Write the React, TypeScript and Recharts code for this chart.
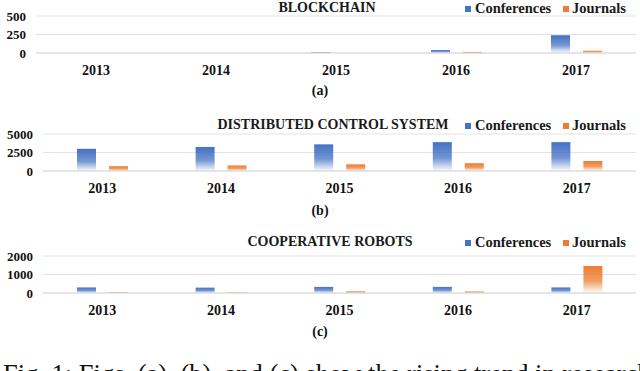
import { BarChart, Bar, XAxis, YAxis, CartesianGrid, Legend } from 'recharts';

// categories
const years = ['2013', '2014', '2015', '2016', '2017'];

// (a) blockchain
const blockchainConferences = [0, 0, 8, 40, 240];
const blockchainJournals = [0, 0, 0, 15, 30];
const blockchainTicks = [0, 250, 500];

// (b) distributed control system
const dcsConferences = [3000, 3250, 3600, 3900, 3900];
const dcsJournals = [650, 750, 900, 1050, 1350];
const dcsTicks = [0, 2500, 5000];

// (c) cooperative robots
const cobotConferences = [300, 290, 330, 330, 300];
const cobotJournals = [30, 25, 90, 80, 1460];
const cobotTicks = [0, 1000, 2000];

const BLUE = '#4472c4';
const ORANGE = '#ed7d31';
const SERIF = '"Liberation Serif", "Times New Roman", serif';

interface PanelProps {
  id: string;
  title: string;
  conferences: number[];
  journals: number[];
  ticks: number[];
  top: number;
  axisWidth: number;
  legendTop: number;
  titleX: number;
}

function Panel({ id, title, conferences, journals, ticks, top, axisWidth, legendTop, titleX }: PanelProps) {
  const data = years.map((year, i) => ({
    year,
    conferences: conferences[i],
    journals: journals[i],
  }));

  const renderLegend = () => (
    <div
      style={{
        position: 'relative',
        width: 640,
        height: 18,
        fontFamily: SERIF,
        fontWeight: 'bold',
        color: '#1a1a1a',
        lineHeight: '18px',
      }}
    >
      <span
        style={{
          position: 'absolute',
          left: titleX,
          top: 0,
          transform: 'translateX(-50%)',
          fontSize: 14,
          whiteSpace: 'nowrap',
        }}
      >
        {title}
      </span>
      <span style={{ position: 'absolute', left: 465, top: 7, width: 6, height: 6, background: BLUE }} />
      <span style={{ position: 'absolute', left: 475, top: 0, fontSize: 14.5 }}>Conferences</span>
      <span style={{ position: 'absolute', left: 563, top: 7, width: 6, height: 6, background: ORANGE }} />
      <span style={{ position: 'absolute', left: 572, top: 0, fontSize: 14.5 }}>Journals</span>
    </div>
  );

  return (
    <div style={{ position: 'absolute', left: 0, top }}>
      <BarChart
        width={640}
        height={80}
        data={data}
        margin={{ top: 16, right: 4, left: 0, bottom: 0 }}
        barSize={19}
        barGap={13}
      >
        <defs>
          <linearGradient id={`${id}-blue`} x1="0" y1="0" x2="0" y2="1">
            <stop offset="0%" stopColor={BLUE} stopOpacity={1} />
            <stop offset="55%" stopColor={BLUE} stopOpacity={0.75} />
            <stop offset="100%" stopColor={BLUE} stopOpacity={0.02} />
          </linearGradient>
          <linearGradient id={`${id}-orange`} x1="0" y1="0" x2="0" y2="1">
            <stop offset="0%" stopColor={ORANGE} stopOpacity={1} />
            <stop offset="55%" stopColor={ORANGE} stopOpacity={0.75} />
            <stop offset="100%" stopColor={ORANGE} stopOpacity={0.02} />
          </linearGradient>
        </defs>
        <CartesianGrid vertical={false} stroke="#e3e3e3" />
        <XAxis
          dataKey="year"
          height={27}
          tickSize={0}
          tickMargin={12}
          axisLine={{ stroke: '#d9d9d9' }}
          tick={{ fontFamily: SERIF, fontWeight: 'bold', fontSize: 14, fill: '#111' }}
        />
        <YAxis
          width={axisWidth}
          domain={[ticks[0], ticks[ticks.length - 1]]}
          ticks={ticks}
          interval={0}
          axisLine={false}
          tickLine={false}
          tickSize={0}
          tickMargin={10}
          tick={{ fontFamily: SERIF, fontWeight: 'bold', fontSize: 13, fill: '#111' }}
        />
        <Legend
          verticalAlign="middle"
          align="center"
          layout="horizontal"
          wrapperStyle={{ top: legendTop, left: 0, width: 640 }}
          content={renderLegend}
        />
        <Bar dataKey="conferences" fill={`url(#${id}-blue)`} isAnimationActive={false} />
        <Bar dataKey="journals" fill={`url(#${id}-orange)`} isAnimationActive={false} />
      </BarChart>
    </div>
  );
}

const captionStyle = {
  position: 'absolute' as const,
  left: 0,
  width: 640,
  textAlign: 'center' as const,
  fontFamily: SERIF,
  fontWeight: 'bold' as const,
  fontSize: 14,
  color: '#111',
};

export default function App() {
  return (
    <div
      style={{
        position: 'absolute',
        left: 0,
        top: 0,
        width: 640,
        height: 371,
        overflow: 'hidden',
        background: '#fff',
      }}
    >
      <Panel
        id="a"
        title="BLOCKCHAIN"
        conferences={blockchainConferences}
        journals={blockchainJournals}
        ticks={blockchainTicks}
        top={0}
        axisWidth={36}
        legendTop={-1}
        titleX={327}
      />
      <div style={{ ...captionStyle, top: 83 }}>(a)</div>
      <Panel
        id="b"
        title="DISTRIBUTED CONTROL SYSTEM"
        conferences={dcsConferences}
        journals={dcsJournals}
        ticks={dcsTicks}
        top={118}
        axisWidth={43}
        legendTop={-2}
        titleX={333}
      />
      <div style={{ ...captionStyle, top: 203 }}>(b)</div>
      <Panel
        id="c"
        title="COOPERATIVE ROBOTS"
        conferences={cobotConferences}
        journals={cobotJournals}
        ticks={cobotTicks}
        top={240}
        axisWidth={43}
        legendTop={-7}
        titleX={330}
      />
      <div style={{ ...captionStyle, top: 324 }}>(c)</div>
      <div
        style={{
          position: 'absolute',
          left: 3,
          top: 359,
          fontFamily: SERIF,
          fontSize: 26.5,
          lineHeight: '30px',
          whiteSpace: 'nowrap',
          color: '#111',
        }}
      >
        Fig. 1: Figs. (a), (b), and (c) show the rising trend in research
      </div>
    </div>
  );
}
